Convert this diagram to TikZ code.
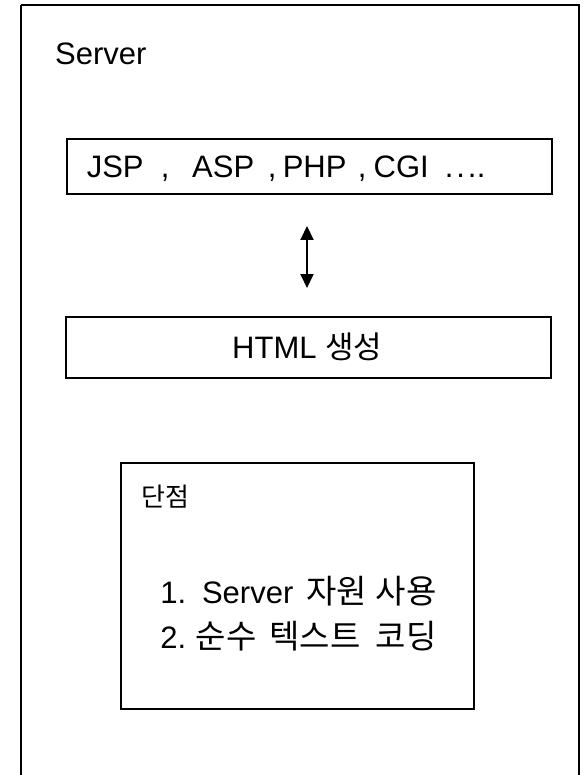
\documentclass[tikz,border=0pt]{standalone}
\usepackage{fontspec}
\setmainfont{Liberation Sans}
\newfontfamily\kr{Noto Sans CJK KR}
\usetikzlibrary{arrows.meta}
\newcommand{\atc}[2]{\rlap{\hspace*{#1pt}\makebox[0pt][c]{#2}}}
\newcommand{\krb}{\fontsize{33}{33}\selectfont\kr}
\tikzset{
  box/.style={draw=black, line width=1.6pt},
  lbl/.style={inner sep=0pt, anchor=base west, font=\fontsize{31}{31}\selectfont},
  conn/.style={line width=2pt, {Triangle[width=13pt,length=14pt]}-{Triangle[width=13pt,length=14pt]}}
}
\begin{document}
\begin{tikzpicture}[x=1pt,y=-1pt]
\useasboundingbox (0,0) rectangle (584,775);
\clip (0,0) rectangle (584,775);
\fill[white] (0,0) rectangle (584,775);
\draw[line width=2.2pt] (21,5) coordinate (o1) -- (579,5) -- (579,790) (21,5) -- (21,790);
\node[lbl] (srv) at (55,65) {Server};
\node[box, minimum width=485pt, minimum height=55pt, anchor=north west, inner sep=0pt] (jsp) at (66,138) {};
\node[lbl] (jsptxt) at (89,178) {\atc{26}{JSP}\atc{76}{,}\atc{134}{ASP}\atc{183}{,}\atc{225.5}{PHP}\atc{273}{,}\atc{312}{CGI}\atc{360}{.}\atc{371.5}{.}\atc{383}{.}\atc{392}{.}\hspace*{400pt}};
\node[box, minimum width=485pt, minimum height=61pt, anchor=north west, inner sep=0pt] (html) at (65,316) {};
\node[lbl] (htmltxt) at (232,358) {HTML {\kr 생성}};
\coordinate (a1) at (307,226);
\coordinate (a2) at (307,288);
\draw[conn] (a1) -- (a2);
\node[box, line width=2pt, minimum width=353pt, minimum height=246pt, anchor=north west, inner sep=0pt] (dis) at (120,462) {};
\node[lbl, font=\fontsize{26}{26}\selectfont\kr] (dtxt) at (141,506) {단점};
\node[lbl] (l1) at (161,603) {\atc{12}{1.}\atc{86.5}{Server}\atc{175.5}{\krb 자원}\atc{245}{\krb 사용}\hspace*{275pt}};
\node[lbl] (l2) at (161,648) {\atc{12}{2.}\atc{65}{\krb 순수}\atc{154}{\krb 텍스트}\atc{245}{\krb 코딩}\hspace*{275pt}};
\end{tikzpicture}
\end{document}
